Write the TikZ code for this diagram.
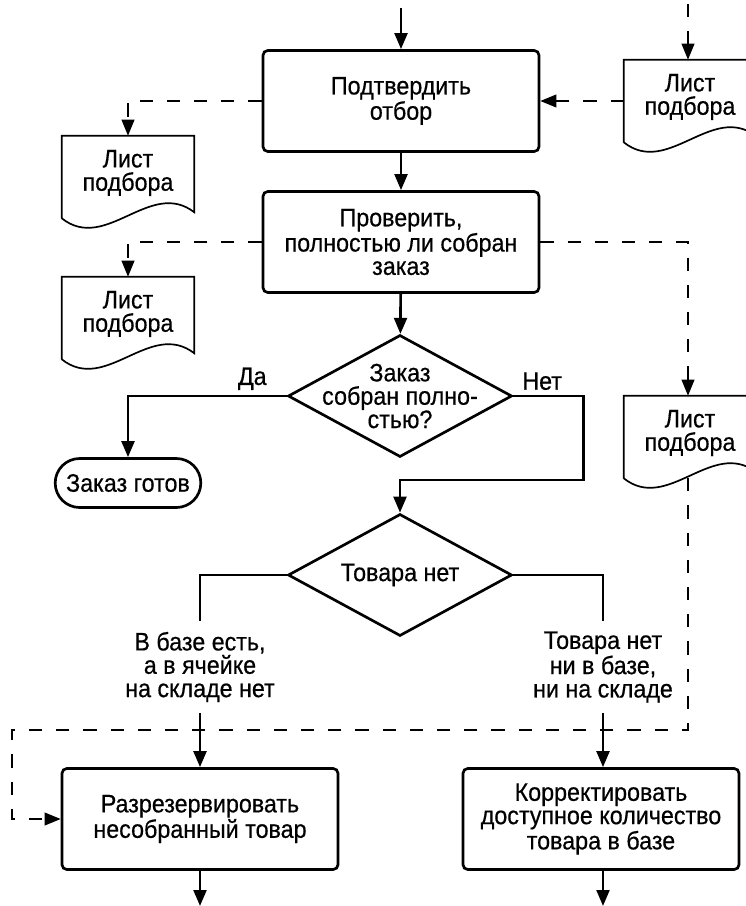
\documentclass[tikz,border=0pt]{standalone}
\usepackage{fontspec}
\setmainfont{Liberation Sans}[FakeStretch=0.92, FakeBold=0.5]
\usetikzlibrary{shapes.geometric, shapes.misc, arrows.meta, positioning}

% outline of a picking list sheet: wavy lower edge, hanging 2mm below the node
\newcommand{\sheetline}[1]{%
  \draw[line width=1.2pt] ([yshift=-2mm]#1.south west) -- (#1.north west) -- (#1.north east)
    -- ([yshift=-0.5mm]#1.south east)
    .. controls +(-44,-34) and +(44,35) .. ([yshift=-2mm]#1.south west);}

\begin{document}
\begin{tikzpicture}[x=0.25mm, y=-0.25mm,
  font=\fontsize{18}{16.6}\selectfont,
  act/.style={draw, line width=1.9pt, rounded corners=1.2mm, minimum width=69mm, minimum height=25.25mm, align=center},
  sheet/.style={minimum width=33mm, minimum height=18.5mm, align=center, inner sep=0pt},
  decision/.style={draw, diamond, line width=1.9pt, minimum width=56mm, minimum height=30.5mm, inner sep=0pt},
  qtext/.style={align=center},
  finish/.style={draw, rounded rectangle, line width=1.9pt, minimum width=38.75mm, minimum height=12.25mm},
  note/.style={align=center, inner xsep=1mm, inner ysep=2.6mm},
  wire/.style={line width=1.9pt},
  flow/.style={wire, -{Triangle[length=4mm, width=3.2mm]}},
  dflow/.style={line width=1pt, dash pattern=on 3.3mm off 3.5mm, -{Triangle[length=4mm, width=3.2mm]}},
]
  \useasboundingbox (0,0) rectangle (745,906);

  % Main column
  \node[act] (confirm) at (401,101) {Подтвердить\\отбор};
  \node[act] (check) at (401,242) {Проверить,\\полностью ли собран\\заказ};
  \node[decision, label={[qtext]center:Заказ\\собран полно-\\стью?}] (full) at (400,396) {};
  \node[finish] (done) at (128,483) {Заказ готов};
  \node[decision, label={[qtext]center:Товара нет}] (missing) at (400,575) {};

  % Branches
  \node[note] (inbase) at (200,667) {В базе есть,\\а в ячейке\\на складе нет};
  \node[note] (nobase) at (603,667) {Товара нет\\ни в базе,\\ни на складе};
  \node[act] (release) at (200,819) {Разрезервировать\\несобранный товар};
  \node[act] (correct) at (601,819) {Корректировать\\доступное количество\\товара в базе};

  % Picking lists
  \node[sheet] (listR) at (690,97) {Лист\\подбора};
  \node[sheet] (list1) at (128,173) {Лист\\подбора};
  \node[sheet] (list2) at (128,314) {Лист\\подбора};
  \node[sheet] (list3) at (690,433) {Лист\\подбора};
  \foreach \s in {listR, list1, list2, list3} {\sheetline{\s}}

  \coordinate (in) at (401,8);
  \coordinate (inR) at (688,4);
  \coordinate (loop) at (12,730);
  \coordinate (outL) at (200,906);
  \coordinate (outR) at (603,906);

  % Control flow
  \draw[flow] (in) -- (confirm);
  \draw[flow] (confirm) -- (check);
  \draw[flow] (check) -- (full);
  \draw[flow] (full.west) node[above left=0mm and 3.5mm] {Да} -| (done.north);
  \draw[flow] (full.east) node[above right=0mm and 0.75mm] {Нет} -- ++(70,0) -- ++(0,84) -| (missing.north);
  \draw[wire] (missing.west) -| (inbase.north);
  \draw[flow] (inbase) -- (release);
  \draw[wire] (missing.east) -| (nobase.north);
  \draw[flow] (nobase) -- (nobase |- correct.north);
  \draw[flow] (release) -- (outL);
  \draw[flow] (correct.south -| outR) -- (outR);

  % Document flow
  \draw[dflow] (inR) -- (listR.north -| inR);
  \draw[dflow] (listR.west |- confirm) -- (confirm);
  \draw[dflow] (confirm.west) -| (list1.north);
  \draw[dflow] (check.west) -| (list2.north);
  \draw[dflow] (check.east) -| (list3.north -| inR);
  \draw[dflow] ([yshift=-2mm]list3.south -| inR) |- (loop) |- (release.west);
\end{tikzpicture}
\end{document}
